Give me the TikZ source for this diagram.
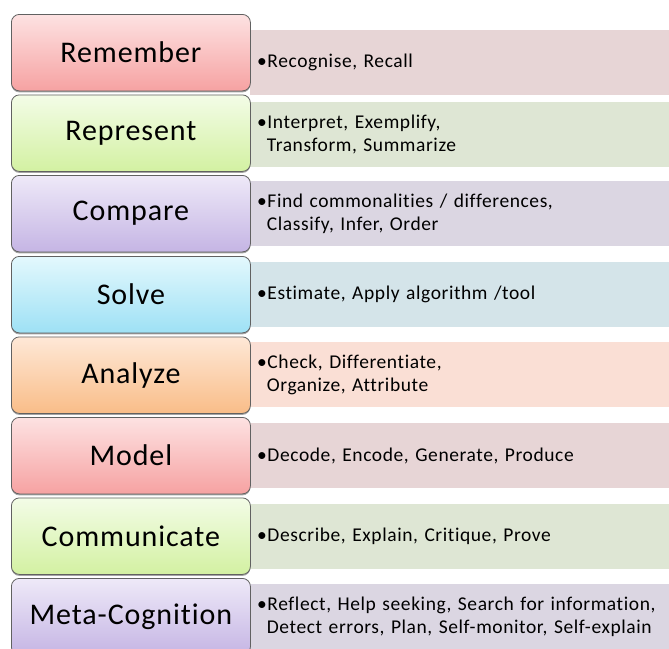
\documentclass[tikz,border=0pt]{standalone}
\usepackage{fontspec}
\setmainfont{Carlito}[Ligatures=NoCommon, LetterSpace=3]
\usetikzlibrary{shadows}

% level colours: top / bottom of the box, and the flat panel behind the verbs
\definecolor{redtop}{HTML}{FDE2E2}
\definecolor{redbot}{HTML}{F6A2A2}
\definecolor{redpan}{HTML}{E7D5D6}
\definecolor{grntop}{HTML}{F3FCE7}
\definecolor{grnbot}{HTML}{D3F1A2}
\definecolor{grnpan}{HTML}{DEE6D4}
\definecolor{victop}{HTML}{EEE9F8}
\definecolor{vicbot}{HTML}{C5B5E4}
\definecolor{vicpan}{HTML}{DBD6E2}
\definecolor{blutop}{HTML}{E3F8FD}
\definecolor{blubot}{HTML}{9EE1F5}
\definecolor{blupan}{HTML}{D4E4E9}
\definecolor{orgtop}{HTML}{FEE8D7}
\definecolor{orgbot}{HTML}{F9BD88}
\definecolor{orgpan}{HTML}{FADFD5}

\tikzset{
  level/.style={draw=black!62, line width=0.8pt, rounded corners=8pt, anchor=north west,
    minimum width=239pt, minimum height=76.5pt, inner sep=0pt,
    font=\fontsize{30}{35}\selectfont,
    drop shadow={shadow xshift=0pt, shadow yshift=-1.5pt, opacity=0.5, fill=black!70}},
  verbs/.style={anchor=north west, minimum height=65pt, text width=416pt, inner xsep=7pt,
    inner ysep=0pt, align=left, font=\fontsize{19.5}{23}\selectfont}
}

\begin{document}
\begin{tikzpicture}[x=1pt,y=-1pt]
  \useasboundingbox (0,0) rectangle (669,648);
  \clip (0,0) rectangle (669,648);

  % panels with the verbs, behind the boxes
  \node[verbs,fill=redpan] (rememberv) at (250,30) {•Recognise, Recall};
  \node[verbs,fill=grnpan] (representv) at (250,102) {•Interpret, Exemplify,\\\hphantom{•}Transform, Summarize};
  \node[verbs,fill=vicpan] (comparev) at (250,181) {•Find commonalities / differences,\\\hphantom{•}Classify, Infer, Order};
  \node[verbs,fill=blupan] (solvev) at (250,262) {•Estimate, Apply algorithm /tool};
  \node[verbs,fill=orgpan] (analyzev) at (250,342) {•Check, Differentiate,\\\hphantom{•}Organize, Attribute};
  \node[verbs,fill=redpan] (modelv) at (250,423) {•Decode, Encode, Generate, Produce};
  \node[verbs,fill=grnpan] (communicatev) at (250,504) {•Describe, Explain, Critique, Prove};
  \node[verbs,fill=vicpan] (metav) at (250,584) {•Reflect, Help seeking, Search for information,\\\hphantom{•}Detect errors, Plan, Self-monitor, Self-explain};

  % the levels
  \node[level,top color=redtop,bottom color=redbot] (remember) at (11,14) {Remember};
  \node[level,top color=grntop,bottom color=grnbot] (represent) at (11,94.5) {Represent};
  \node[level,top color=victop,bottom color=vicbot] (compare) at (11,175) {Compare};
  \node[level,top color=blutop,bottom color=blubot] (solve) at (11,256) {Solve};
  \node[level,top color=orgtop,bottom color=orgbot] (analyze) at (11,336.5) {Analyze};
  \node[level,top color=redtop,bottom color=redbot] (model) at (11,417) {Model};
  \node[level,top color=grntop,bottom color=grnbot] (communicate) at (11,497.5) {Communicate};
  \node[level,top color=victop,bottom color=vicbot] (meta) at (11,578) {Meta-Cognition};
\end{tikzpicture}
\end{document}
